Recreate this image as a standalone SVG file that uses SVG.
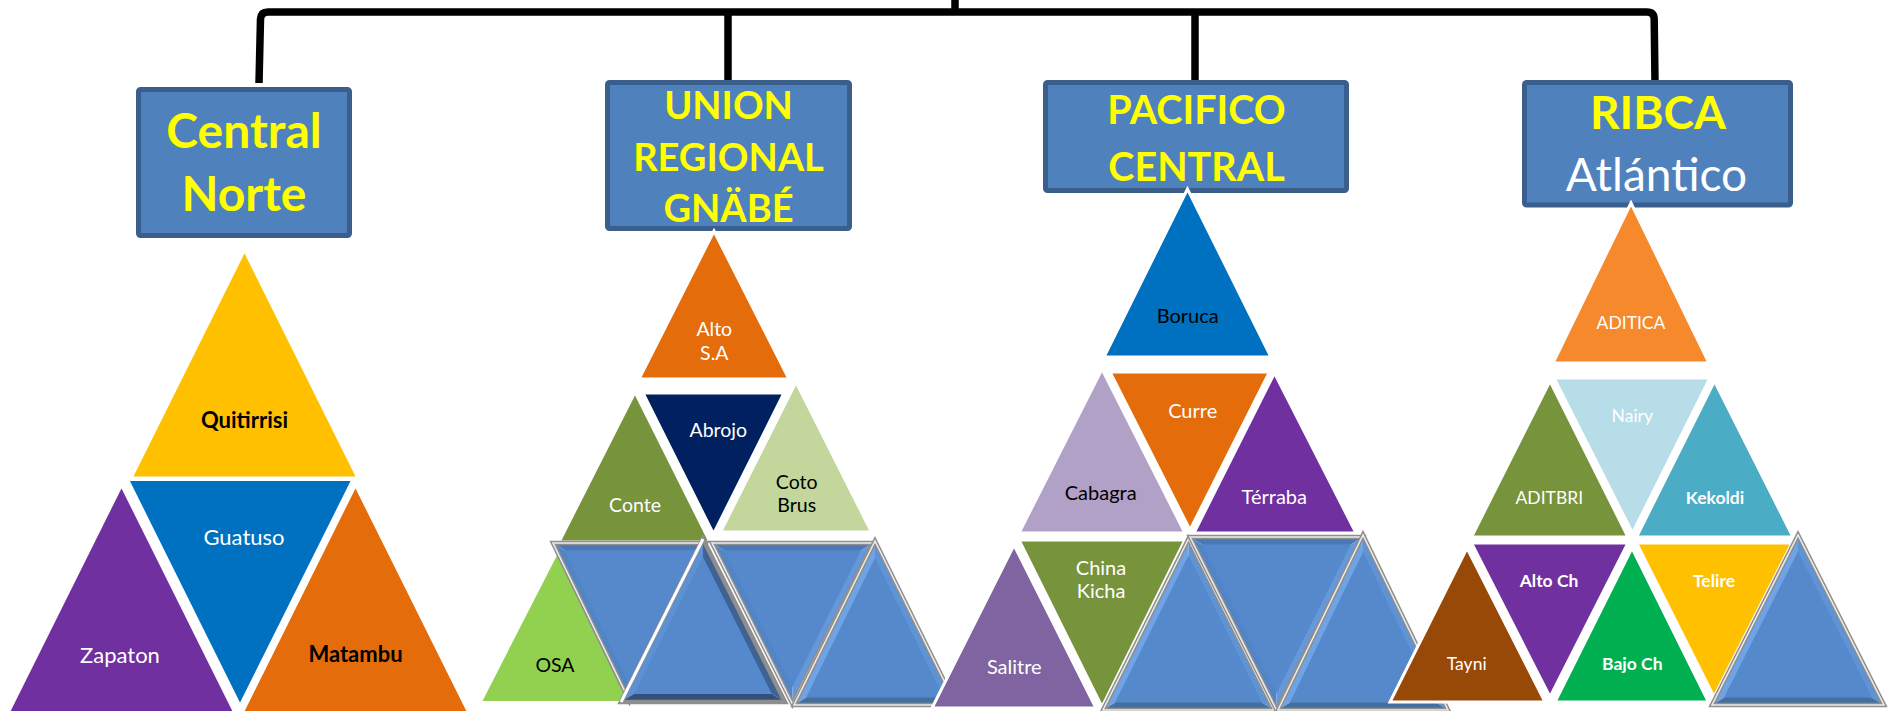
<svg xmlns="http://www.w3.org/2000/svg" width="1889" height="711" viewBox="0 0 1889 711">
<style>
.box{fill:#4F81BD;stroke:#3A5F8C;stroke-width:5}
.tri{stroke:#FFFFFF;stroke-width:3;stroke-linejoin:miter}
.title{font-family:Lato,"Liberation Sans",sans-serif;font-weight:700;fill:#FFFF00;text-anchor:middle}
.lbl{font-family:Lato,"Liberation Sans",sans-serif;text-anchor:middle}
.w{fill:#FFFFFF}.k{fill:#000000}.b{font-weight:700}
.conn{fill:none;stroke:#000000;stroke-width:7.5}
.edge{fill:none;stroke:#8E8E8E;stroke-width:4.5;stroke-linejoin:miter}
.hl{fill:none;stroke:#EDEDED;stroke-width:1.5}
.in{fill:#5689CB}
.bl{fill:#6EA3E6}.br{fill:#5E93D5}.bb{fill:#44709F}
.dt{fill:#4A79B6}.dl{fill:#5185C5}.dr{fill:#6498DA}
.kl{fill:#5D91D3}.kr{fill:#3E6293}.kb{fill:#33507A}
</style>

<g id="connectors">
<path class="conn" d="M259,83 L260.5,19 Q261,12 268,12 L1647,12 Q1654,12 1654.2,19 L1655,83"/>
<path class="conn" d="M955,0 V12"/>
<path class="conn" d="M728,12 V83"/>
<path class="conn" d="M1195,12 V84"/>
</g>

<g id="central-norte">
<rect class="box" x="138.5" y="89.5" width="211" height="146" rx="2"/>
<text class="title" font-size="48" x="244" y="147.5">Central</text>
<text class="title" font-size="48" x="244" y="211">Norte</text>
<polygon class="tri" fill="#FFC000" points="244.5,250 131,478 358,478"/>
<polygon class="tri" fill="#0070C0" points="127.5,479.5 353,479.5 240,706"/>
<polygon class="tri" fill="#7030A0" points="121.5,485 8,713 235,713"/>
<polygon class="tri" fill="#E46C0A" points="355.5,485 242,713 469,713"/>
<text class="lbl k b" font-size="22" x="244.5" y="428">Quitirrisi</text>
<text class="lbl w" font-size="22" x="244" y="545">Guatuso</text>
<text class="lbl w" font-size="22" x="120" y="663">Zapaton</text>
<text class="lbl k b" font-size="22" x="355.5" y="662">Matambu</text>
</g>

<g id="union-regional-gnabe">
<rect class="box" x="607.5" y="82.5" width="242" height="146" rx="2"/>
<text class="title" font-size="38" x="728.5" y="119">UNION</text>
<text class="title" font-size="38" x="728.5" y="170.5">REGIONAL</text>
<text class="title" font-size="38" x="728.5" y="222">GNÄBÉ</text>
<polygon class="tri" fill="#E46C0A" points="714,231 639,379 789,379"/>
<polygon class="tri" fill="#77933C" points="635,392 559,542 710,542"/>
<polygon class="tri" fill="#C3D69B" points="796,382 720.5,532 871.5,532"/>
<polygon class="tri" fill="#002060" points="643,393 784,393 713.5,534"/>
<polygon class="tri" fill="#92D050" points="557,552 480,702.5 634,702.5"/>
<text class="lbl w" font-size="19.5" x="714.3" y="336">Alto</text>
<text class="lbl w" font-size="19.5" x="714.3" y="360">S.A</text>
<text class="lbl w" font-size="19.5" x="718.3" y="437.3">Abrojo</text>
<text class="lbl w" font-size="19.5" x="635" y="511.7">Conte</text>
<text class="lbl k" font-size="19.5" x="796.7" y="489.3">Coto</text>
<text class="lbl k" font-size="19.5" x="796.7" y="512.3">Brus</text>
<text class="lbl k" font-size="19.5" x="555" y="671.7">OSA</text>
<g id="u-d1">
<polygon class="dt" points="553,543 706,543 629.5,591"/>
<polygon class="dl" points="553,543 629.5,701 629.5,591"/>
<polygon class="dr" points="706,543 629.5,701 629.5,591"/>
<polygon class="in" points="553,543 706,543 629.5,701" transform="translate(629.5,591) scale(0.85) translate(-629.5,-591)"/>
<polygon class="edge" points="553,543 706,543 629.5,701"/>
<polygon class="hl" points="553,543 706,543 629.5,701"/>
</g>
<g id="u-u1">
<polygon class="kl" points="703,539 621,702 703,651.5"/>
<polygon class="kr" points="703,539 785,702 703,651.5"/>
<polygon class="kb" points="621,702 785,702 703,651.5"/>
<polygon class="in" points="703,539 621,702 785,702" transform="translate(703,651.5) scale(0.84) translate(-703,-651.5)"/>
<polygon class="edge" points="703,539 621,702 785,702"/>
<polyline fill="none" stroke="#FFFFFF" stroke-width="3" points="621,702 703,539"/>
</g>
<g id="u-d2">
<polygon class="dt" points="712,543 873,543 792.5,592.75"/>
<polygon class="dl" points="712,543 792.5,704 792.5,592.75"/>
<polygon class="dr" points="873,543 792.5,704 792.5,592.75"/>
<polygon class="in" points="712,543 873,543 792.5,704" transform="translate(792.5,592.75) scale(0.85) translate(-792.5,-592.75)"/>
<polygon class="edge" points="712,543 873,543 792.5,704"/>
<polygon class="hl" points="712,543 873,543 792.5,704"/>
</g>
<g id="u-u2">
<polygon class="bl" points="875,541 794,705 875,654.7"/>
<polygon class="br" points="875,541 956,705 875,654.7"/>
<polygon class="bb" points="794,705 956,705 875,654.7"/>
<polygon class="in" points="875,541 794,705 956,705" transform="translate(875,654.7) scale(0.85) translate(-875,-654.7)"/>
<polygon class="edge" points="875,541 794,705 956,705"/>
<polygon class="hl" points="875,541 794,705 956,705"/>
</g>
</g>

<g id="pacifico-central">
<rect class="box" x="1045.5" y="82.5" width="301" height="108" rx="2"/>
<text class="title" font-size="39.5" x="1196.5" y="123.5">PACIFICO</text>
<text class="title" font-size="39.5" x="1196.5" y="181">CENTRAL</text>
<polygon class="tri" fill="#0070C0" points="1187.5,189 1104,357 1271,357"/>
<polygon class="tri" fill="#B2A1C7" points="1102,369 1019,533 1185,533"/>
<polygon class="tri" fill="#E46C0A" points="1110,372 1269.5,372 1190,530"/>
<polygon class="tri" fill="#7030A0" points="1274.5,373 1194,533 1356,533"/>
<polygon class="tri" fill="#77933C" points="1019,540 1185,540 1102,707"/>
<polygon class="tri" fill="#8064A2" points="1014,545 932,708 1096,708"/>
<text class="lbl k" font-size="20" x="1187.7" y="323">Boruca</text>
<text class="lbl w" font-size="20" x="1192.7" y="418.4">Curre</text>
<text class="lbl k" font-size="20" x="1100.7" y="500">Cabagra</text>
<text class="lbl w" font-size="20" x="1274.3" y="503.7">Térraba</text>
<text class="lbl w" font-size="20" x="1101" y="575">China</text>
<text class="lbl w" font-size="20" x="1101" y="598.3">Kicha</text>
<text class="lbl w" font-size="20" x="1014.3" y="674">Salitre</text>
<g id="p-u1">
<polygon class="bl" points="1188.5,539 1103,710 1188.5,657.2"/>
<polygon class="br" points="1188.5,539 1274,710 1188.5,657.2"/>
<polygon class="bb" points="1103,710 1274,710 1188.5,657.2"/>
<polygon class="in" points="1188.5,539 1103,710 1274,710" transform="translate(1188.5,657.2) scale(0.86) translate(-1188.5,-657.2)"/>
<polygon class="edge" points="1188.5,539 1103,710 1274,710"/>
<polygon class="hl" points="1188.5,539 1103,710 1274,710"/>
</g>
<g id="p-d1">
<polygon class="dt" points="1190,537 1363,537 1276.5,590.5"/>
<polygon class="dl" points="1190,537 1276.5,710 1276.5,590.5"/>
<polygon class="dr" points="1363,537 1276.5,710 1276.5,590.5"/>
<polygon class="in" points="1190,537 1363,537 1276.5,710" transform="translate(1276.5,590.5) scale(0.86) translate(-1276.5,-590.5)"/>
<polygon class="edge" points="1190,537 1363,537 1276.5,710"/>
<polygon class="hl" points="1190,537 1363,537 1276.5,710"/>
</g>
<g id="p-u2">
<polygon class="bl" points="1363,535 1278,710 1363,656.8"/>
<polygon class="br" points="1363,535 1448,710 1363,656.8"/>
<polygon class="bb" points="1278,710 1448,710 1363,656.8"/>
<polygon class="in" points="1363,535 1278,710 1448,710" transform="translate(1363,656.8) scale(0.86) translate(-1363,-656.8)"/>
<polygon class="edge" points="1363,535 1278,710 1448,710"/>
<polygon class="hl" points="1363,535 1278,710 1448,710"/>
</g>
</g>

<g id="ribca-atlantico">
<rect class="box" x="1524.5" y="82.5" width="266" height="122.5" rx="2"/>
<text class="title" font-size="46" x="1658" y="129.3">RIBCA</text>
<text class="lbl w" font-size="46" x="1656.5" y="190.7">Atlántico</text>
<polygon class="tri" fill="#F5892B" points="1631,203 1553,363 1709,363"/>
<polygon class="tri" fill="#77933C" points="1550,381 1471.5,537 1628,537"/>
<polygon class="tri" fill="#B7DDE8" points="1554,378 1710,378 1632.5,533"/>
<polygon class="tri" fill="#4BACC6" points="1714.5,381 1636.5,537 1793,537"/>
<polygon class="tri" fill="#984807" points="1467,548 1390,702 1545,702"/>
<polygon class="tri" fill="#7030A0" points="1471.5,543 1628,543 1550,697"/>
<polygon class="tri" fill="#00B050" points="1632,548 1555,702 1708.5,702"/>
<polygon class="tri" fill="#FFC000" points="1636.5,543 1792,543 1714,697"/>
<text class="lbl w" font-size="17.5" x="1631" y="329.3">ADITICA</text>
<text class="lbl w" font-size="17.5" x="1632.3" y="421.7">Nairy</text>
<text class="lbl w" font-size="17.5" x="1549.3" y="504.3">ADITBRI</text>
<text class="lbl w b" font-size="17.5" x="1715" y="504.3">Kekoldi</text>
<text class="lbl w b" font-size="17.5" x="1549" y="586.7">Alto Ch</text>
<text class="lbl w b" font-size="17.5" x="1714" y="586.7">Telire</text>
<text class="lbl w" font-size="17.5" x="1466.7" y="670">Tayni</text>
<text class="lbl w b" font-size="17.5" x="1632.3" y="670">Bajo Ch</text>
<g id="r-u1">
<polygon class="bl" points="1798,535 1712,705 1798,652.1"/>
<polygon class="br" points="1798,535 1884,705 1798,652.1"/>
<polygon class="bb" points="1712,705 1884,705 1798,652.1"/>
<polygon class="in" points="1798,535 1712,705 1884,705" transform="translate(1798,652.1) scale(0.86) translate(-1798,-652.1)"/>
<polygon class="edge" points="1798,535 1712,705 1884,705"/>
<polygon class="hl" points="1798,535 1712,705 1884,705"/>
</g>
</g>
</svg>
